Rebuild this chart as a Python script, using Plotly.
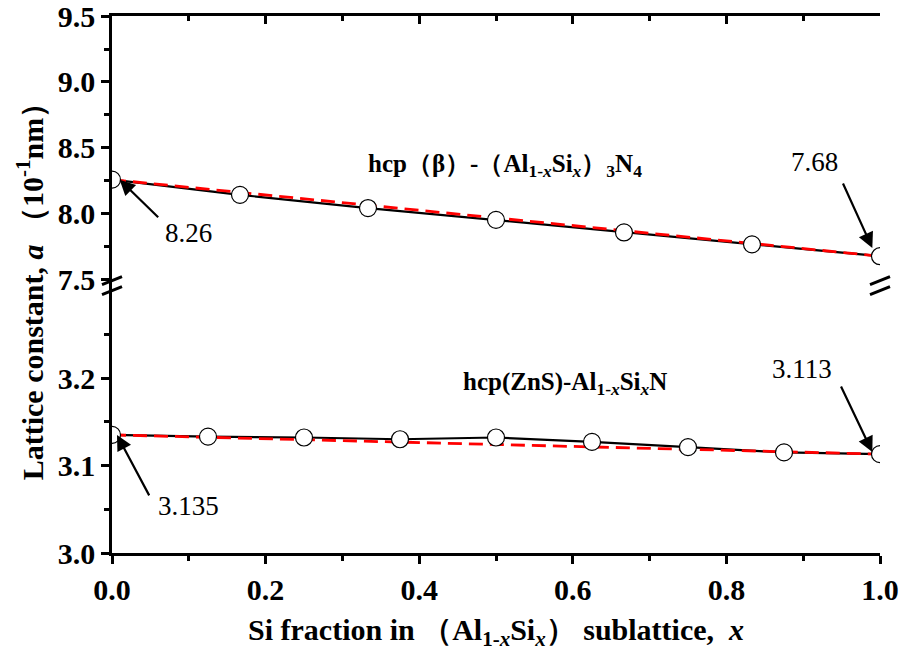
import plotly.graph_objects as go

# ---- data ----
x_beta = [0.0, 1/6, 2/6, 3/6, 4/6, 5/6, 1.0]
a_beta = [8.26, 8.145, 8.045, 7.955, 7.86, 7.77, 7.68]
x_beta_lin = [0.0, 1.0]
a_beta_lin = [8.26, 7.68]

x_zns = [0.0, 0.125, 0.25, 0.375, 0.5, 0.625, 0.75, 0.875, 1.0]
a_zns = [3.135, 3.133, 3.132, 3.130, 3.132, 3.127, 3.121, 3.115, 3.113]
x_zns_lin = [0.0, 1.0]
a_zns_lin = [3.135, 3.113]

x_ticks = [0.0, 0.2, 0.4, 0.6, 0.8, 1.0]
y_top_ticks = [7.5, 8.0, 8.5, 9.0, 9.5]
y_top_minor = [7.75, 8.25, 8.75, 9.25]
y_bot_ticks = [3.0, 3.1, 3.2]
y_bot_minor = [3.05, 3.15, 3.25]

FONT = "Liberation Serif"
TICKFONT = dict(family=FONT, size=30, color="black", weight="bold")
BREAK = 0.4981          # paper fraction of the axis break
TOP_RANGE = [7.458, 9.5]
BOT_RANGE = [3.0, 3.3057]

fig = go.Figure()

# bottom panel (ZnS)
fig.add_trace(go.Scatter(x=x_zns, y=a_zns, mode="lines", line=dict(color="black", width=2.2),
                         xaxis="x", yaxis="y", showlegend=False, hoverinfo="skip"))
fig.add_trace(go.Scatter(x=x_zns_lin, y=a_zns_lin, mode="lines",
                         line=dict(color="red", width=2.8, dash="14px,7px"),
                         xaxis="x", yaxis="y", showlegend=False, hoverinfo="skip"))
fig.add_trace(go.Scatter(x=x_zns, y=a_zns, mode="markers",
                         marker=dict(symbol="circle", size=17, color="white",
                                     line=dict(color="black", width=1.2)),
                         xaxis="x", yaxis="y", showlegend=False, hoverinfo="skip"))

# top panel (beta)
fig.add_trace(go.Scatter(x=x_beta, y=a_beta, mode="lines", line=dict(color="black", width=2.2),
                         xaxis="x2", yaxis="y2", showlegend=False, hoverinfo="skip"))
fig.add_trace(go.Scatter(x=x_beta_lin, y=a_beta_lin, mode="lines",
                         line=dict(color="red", width=2.8, dash="14px,7px"),
                         xaxis="x2", yaxis="y2", showlegend=False, hoverinfo="skip"))
fig.add_trace(go.Scatter(x=x_beta, y=a_beta, mode="markers",
                         marker=dict(symbol="circle", size=17, color="white",
                                     line=dict(color="black", width=1.2)),
                         xaxis="x2", yaxis="y2", showlegend=False, hoverinfo="skip"))

axis_common = dict(showline=True, linecolor="black", linewidth=2.5, showgrid=False,
                   zeroline=False, tickcolor="black", tickwidth=2.5, automargin=False,
                   ticklabeloverflow="allow")

def minor(side, vals=None, dtick=None):
    d = dict(ticks=side, ticklen=5, tickwidth=2.5, tickcolor="black")
    if vals is not None:
        d["tickvals"] = vals
    else:
        d["dtick"] = dtick
        d["tick0"] = 0
    return d

fig.update_layout(
    width=899, height=657,
    margin=dict(l=112, r=19, t=16, b=104, autoexpand=False),
    plot_bgcolor="white", paper_bgcolor="white",
    xaxis=dict(**axis_common, domain=[0, 1], range=[0, 1], anchor="y",
               ticks="outside", ticklen=8, tickvals=x_ticks, tickformat=".1f",
               tickfont=TICKFONT, minor=minor("outside", dtick=0.1)),
    xaxis2=dict(**axis_common, domain=[0, 1], range=[0, 1], anchor="y2", side="top",
                matches="x", ticks="inside", ticklen=8, tickvals=x_ticks, showticklabels=False,
                minor=minor("inside", dtick=0.1)),
    yaxis=dict(**axis_common, domain=[0, BREAK], range=BOT_RANGE, anchor="x",
               ticks="outside", ticklen=8, tickvals=y_bot_ticks, tickformat=".1f",
               tickfont=TICKFONT, minor=minor("outside", vals=y_bot_minor)),
    yaxis2=dict(**axis_common, domain=[BREAK, 1], range=TOP_RANGE, anchor="x2",
                ticks="outside", ticklen=8, tickvals=y_top_ticks, tickformat=".1f",
                tickfont=TICKFONT, minor=minor("outside", vals=y_top_minor)),
    yaxis3=dict(**axis_common, overlaying="y", side="right", anchor="x",
                range=BOT_RANGE, ticks="inside", ticklen=8, tickvals=y_bot_ticks,
                showticklabels=False, minor=minor("inside", vals=y_bot_minor)),
    yaxis4=dict(**axis_common, overlaying="y2", side="right", anchor="x2",
                range=TOP_RANGE, ticks="inside", ticklen=8, tickvals=y_top_ticks,
                showticklabels=False, minor=minor("inside", vals=y_top_minor)),
    hovermode=False,
)

# axis titles as annotations
fig.add_annotation(xref="paper", yref="paper", x=-0.107, y=0.5, xanchor="center", yanchor="middle",
                   text="<b>Lattice constant, <i>a</i> （10<sup>-1</sup>nm）</b>", textangle=-90,
                   showarrow=False, font=dict(family=FONT, size=30, color="black"))
fig.add_annotation(xref="paper", yref="paper", x=0.5, y=-0.147, xanchor="center", yanchor="middle",
                   text="<b>Si fraction in （Al<sub>1-<i>x</i></sub>Si<sub><i>x</i></sub>） sublattice,  <i>x</i></b>",
                   showarrow=False, font=dict(family=FONT, size=30, color="black"))

# series labels
fig.add_annotation(xref="x2", yref="y2", x=0.512, y=8.37, xanchor="center", yanchor="middle",
                   text="<b>hcp（β）-（Al<sub>1-<i>x</i></sub>Si<sub><i>x</i></sub>）<sub>3</sub>N<sub>4</sub></b>",
                   showarrow=False, font=dict(family=FONT, size=25, color="black"))
fig.add_annotation(xref="x", yref="y", x=0.59, y=3.194, xanchor="center", yanchor="middle",
                   text="<b>hcp(ZnS)-Al<sub>1-<i>x</i></sub>Si<sub><i>x</i></sub>N</b>",
                   showarrow=False, font=dict(family=FONT, size=25, color="black"))

# value labels
lab_font = dict(family=FONT, size=27, color="black")
fig.add_annotation(xref="x2", yref="y2", x=0.10, y=7.856, text="8.26", showarrow=False, font=lab_font)
fig.add_annotation(xref="x2", yref="y2", x=0.915, y=8.394, text="7.68", showarrow=False, font=lab_font)
fig.add_annotation(xref="x", yref="y", x=0.10, y=3.054, text="3.135", showarrow=False, font=lab_font)
fig.add_annotation(xref="x", yref="y", x=0.898, y=3.21, text="3.113", showarrow=False, font=lab_font)

# arrows
arrow = dict(showarrow=True, arrowhead=2, arrowsize=1.4, arrowwidth=2.2, arrowcolor="black",
             text="", standoff=0)
fig.add_annotation(xref="x2", yref="y2", x=0.010, y=8.26, ax=40, ay=39, **arrow)
fig.add_annotation(xref="x2", yref="y2", x=0.990, y=7.742, ax=-30, ay=-66, **arrow)
fig.add_annotation(xref="x", yref="y", x=0.0065, y=3.135, ax=33, ay=62, **arrow)
fig.add_annotation(xref="x", yref="y", x=0.990, y=3.1154, ax=-32, ay=-67, **arrow)

# axis break marks
for xp in (0, 1):
    for y0, y1 in ((1, 9), (-9, -1)):
        fig.add_shape(type="line", xref="paper", yref="paper",
                      xsizemode="pixel", ysizemode="pixel", xanchor=xp, yanchor=BREAK,
                      x0=-10, x1=10, y0=y0, y1=y1,
                      line=dict(color="black", width=3))

fig.write_html("out.html", config={"displayModeBar": False},
               post_script="document.body.style.margin='0';")
